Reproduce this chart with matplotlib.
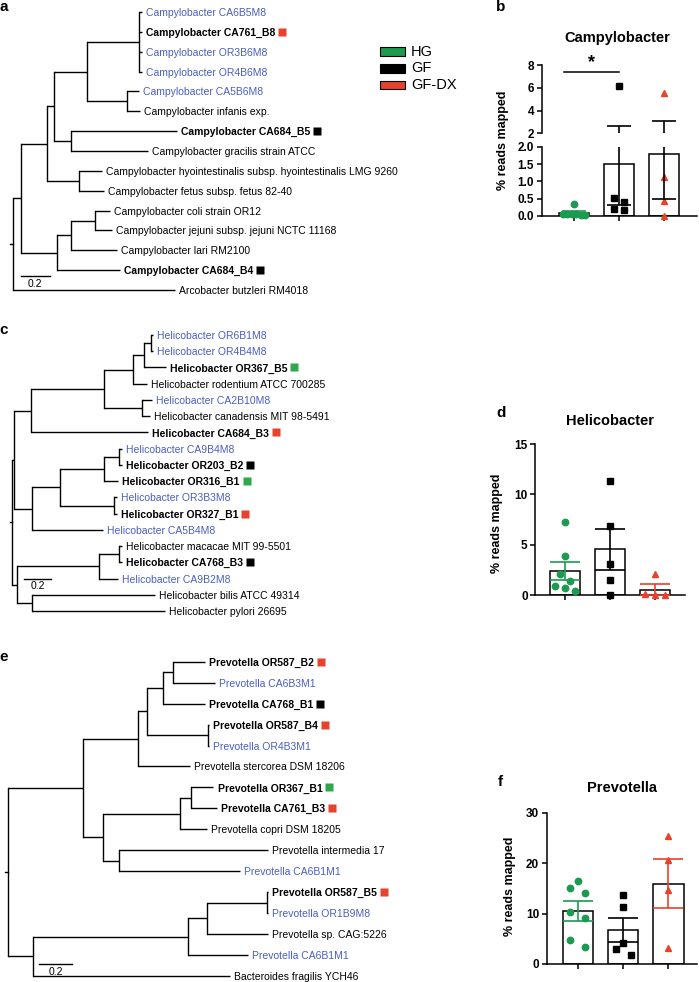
import matplotlib
matplotlib.use('Agg')
import matplotlib.pyplot as plt
import numpy as np
from matplotlib.patches import Rectangle

plt.rcParams['font.family'] = ['Liberation Sans', 'DejaVu Sans']

W, H = 699, 982
GREEN = '#1c9a50'
RED = '#e8412c'
BLUE = '#4a5ec2'

groups = ['HG', 'GF', 'GF-DX']
colors = {'HG': GREEN, 'GF': 'black', 'GF-DX': RED}
markers = {'HG': 'o', 'GF': 's', 'GF-DX': '^'}
msizes = {'HG': 4.6, 'GF': 4.0, 'GF-DX': 4.6}

# leaf = (name, branch depth, kind, group) ; node = (depth, [children])
# kind: 'ref' reference genome, 'mag' binned genome (blue), 'iso' isolate (bold)
tree_a = (0.0, [
    (0.05, [
        (0.228, [
            (0.28, [
                (0.505, [
                    (0.859, [
                        ('Campylobacter CA6B5M8', 0.875, 'mag', None),
                        ('Campylobacter CA761_B8', 0.875, 'iso', 'GF-DX'),
                        ('Campylobacter OR3B6M8', 0.875, 'mag', None),
                        ('Campylobacter OR4B6M8', 0.875, 'mag', None),
                    ]),
                    (0.773, [
                        ('Campylobacter CA5B6M8', 0.855, 'mag', None),
                        ('Campylobacter infanis exp.', 0.864, 'ref', None),
                    ]),
                ]),
                (0.391, [
                    ('Campylobacter CA684_B5', 1.114, 'iso', 'GF'),
                    ('Campylobacter gracilis strain ATCC', 0.92, 'ref', None),
                ]),
            ]),
            (0.448, [
                ('Campylobacter hyointestinalis subsp. hyointestinalis LMG 9260', 0.603, 'ref', None),
                ('Campylobacter fetus subsp. fetus 82-40', 0.618, 'ref', None),
            ]),
        ]),
        (0.296, [
            (0.391, [
                (0.557, [
                    ('Campylobacter coli strain OR12', 0.659, 'ref', None),
                    ('Campylobacter jejuni subsp. jejuni NCTC 11168', 0.671, 'ref', None),
                ]),
                ('Campylobacter lari RM2100', 0.705, 'ref', None),
            ]),
            ('Campylobacter CA684_B4', 0.727, 'iso', 'GF'),
        ]),
    ]),
    ('Arcobacter butzleri RM4018', 1.10, 'ref', None),
])

tree_c = (0.0, [
    (0.013, [
        (0.136, [
            (0.681, [
                (0.892, [
                    (0.978, [
                        (1.025, [
                            ('Helicobacter OR6B1M8', 1.04, 'mag', None),
                            ('Helicobacter OR4B4M8', 1.04, 'mag', None),
                        ]),
                        ('Helicobacter OR367_B5', 1.136, 'iso', 'HG'),
                    ]),
                    ('Helicobacter rodentium ATCC 700285', 0.996, 'ref', None),
                ]),
                (0.959, [
                    ('Helicobacter CA2B10M8', 1.033, 'mag', None),
                    ('Helicobacter canadensis MIT 98-5491', 1.02, 'ref', None),
                ]),
            ]),
            ('Helicobacter CA684_B3', 1.007, 'iso', 'GF-DX'),
        ]),
        (0.148, [
            (0.353, [
                (0.681, [
                    (0.79, [
                        ('Helicobacter CA9B4M8', 0.81, 'mag', None),
                        ('Helicobacter OR203_B2', 0.81, 'iso', 'GF'),
                    ]),
                    ('Helicobacter OR316_B1', 0.785, 'iso', 'HG'),
                ]),
                (0.756, [
                    ('Helicobacter OR3B3M8', 0.773, 'mag', None),
                    ('Helicobacter OR327_B1', 0.773, 'iso', 'GF-DX'),
                ]),
            ]),
            ('Helicobacter CA5B4M8', 0.674, 'mag', None),
        ]),
    ]),
    (0.037, [
        (0.644, [
            (0.79, [
                ('Helicobacter macacae MIT 99-5501', 0.81, 'ref', None),
                ('Helicobacter CA768_B3', 0.81, 'iso', 'GF'),
            ]),
            ('Helicobacter CA9B2M8', 0.785, 'mag', None),
        ]),
        (0.144, [
            ('Helicobacter bilis ATCC 49314', 1.057, 'ref', None),
            ('Helicobacter pylori 26695', 1.131, 'ref', None),
        ]),
    ]),
])

tree_e = (0.0, [
    (0.46, [
        (0.794, [
            (0.853, [
                (0.947, [
                    (1.009, [
                        ('Prevotella OR587_B2', 1.207, 'iso', 'GF-DX'),
                        ('Prevotella CA6B3M1', 1.268, 'mag', None),
                    ]),
                    ('Prevotella CA768_B1', 1.207, 'iso', 'GF'),
                ]),
                (1.227, [
                    ('Prevotella OR587_B4', 1.233, 'iso', 'GF-DX'),
                    ('Prevotella OR4B3M1', 1.233, 'mag', None),
                ]),
            ]),
            ('Prevotella stercorea DSM 18206', 1.115, 'ref', None),
        ]),
        (0.579, [
            (1.053, [
                (1.119, [
                    ('Prevotella OR367_B1', 1.258, 'iso', 'HG'),
                    ('Prevotella CA761_B3', 1.279, 'iso', 'GF-DX'),
                ]),
                ('Prevotella copri DSM 18205', 1.217, 'ref', None),
            ]),
            (0.681, [
                ('Prevotella intermedia 17', 1.595, 'ref', None),
                ('Prevotella CA6B1M1', 1.421, 'mag', None),
            ]),
        ]),
    ]),
    (0.153, [
        (1.104, [
            (1.221, [
                (1.585, [
                    ('Prevotella OR587_B5', 1.595, 'iso', 'GF-DX'),
                    ('Prevotella OR1B9M8', 1.595, 'mag', None),
                ]),
                ('Prevotella sp. CAG:5226', 1.595, 'ref', None),
            ]),
            ('Prevotella CA6B1M1', 1.472, 'mag', None),
        ]),
        ('Bacteroides fragilis YCH46', 1.36, 'ref', None),
    ]),
])

# % reads mapped per mouse
campy_hg = [0.34, 0.07, 0.06, 0.07, 0.05, 0.03, 0.02]
campy_gf = [6.15, 0.53, 0.41, 0.21, 0.16]
campy_gfdx = [5.6, 1.12, 0.43, 0.0]

helico_hg = [7.28, 3.87, 2.05, 1.39, 0.93, 0.66, 0.43]
helico_gf = [11.29, 6.85, 3.08, 1.49, 0.0]
helico_gfdx = [2.05, 0.1, 0.0, 0.02]

prevo_hg = [16.5, 15.1, 14.1, 10.3, 9.2, 4.7, 3.4]
prevo_gf = [13.6, 11.3, 4.2, 3.0, 1.7]
prevo_gfdx = [25.3, 20.6, 14.7, 3.2]


def px_axes(fig, x0, y0, x1, y1):
    return fig.add_axes([x0 / W, 1 - y1 / H, (x1 - x0) / W, (y1 - y0) / H])


def fig_text(fig, x, y, s, **kw):
    return fig.text(x / W, 1 - y / H, s, **kw)


def draw_node(ax, node, leaves, tagged):
    if isinstance(node[0], str):
        name, d, kind, grp = node
        y = len(leaves)
        leaves.append(node)
        t = ax.annotate(name, (d, y), xytext=(3, 0), textcoords='offset points',
                        va='center_baseline', ha='left', fontsize=7.5,
                        color=BLUE if kind == 'mag' else 'black',
                        fontweight='bold' if kind == 'iso' else 'normal',
                        annotation_clip=False)
        if grp:
            tagged.append((ax, t, y, grp))
        return y
    d, kids = node
    ys = [draw_node(ax, k, leaves, tagged) for k in kids]
    for k, y in zip(kids, ys):
        kd = k[1] if isinstance(k[0], str) else k[0]
        ax.plot([d, kd], [y, y], color='black', lw=1.0, solid_capstyle='butt')
    ax.plot([d, d], [min(ys), max(ys)], color='black', lw=1.0, solid_capstyle='projecting')
    return (min(ys) + max(ys)) / 2


def count_leaves(node):
    if isinstance(node[0], str):
        return 1
    return sum(count_leaves(k) for k in node[1])


def tree_panel(fig, tree, first_px, step_px, root_px, ppu, bar_y, tagged):
    n = count_leaves(tree)
    top = first_px - step_px / 2
    ax = px_axes(fig, 0, top, 430, top + n * step_px)
    ax.set_xlim(-root_px / ppu, (430 - root_px) / ppu)
    ax.set_ylim(n - 0.5, -0.5)
    ax.axis('off')
    yr = draw_node(ax, tree, [], tagged)
    ax.plot([-0.02, 0], [yr, yr], color='black', lw=1.0)
    # scale bar
    x0 = bar_y[0]
    ax.plot([x0, x0 + 0.2], [bar_y[1], bar_y[1]], color='black', lw=1.0)
    ax.text(x0 + 0.1, bar_y[1] + 0.12, '0.2', ha='center', va='top', fontsize=7.5)
    return ax


def swarm_offsets(ax, vals, spacing_px, row_px=7.5, max_px=22):
    vals = np.asarray(vals, float)
    ppx = ax.bbox.width / np.diff(ax.get_xlim())[0]
    ppy = ax.bbox.height / np.diff(ax.get_ylim())[0]
    rows = []
    for k in np.argsort(vals):
        if rows and (vals[k] - vals[rows[-1][0]]) * ppy < row_px:
            rows[-1].append(k)
        else:
            rows.append([k])
    offs = np.zeros(len(vals))
    for row in rows:
        n = len(row)
        if n < 2:
            continue
        s = min(spacing_px, max_px / (n - 1))
        for j, k in enumerate(sorted(row, key=lambda k: -vals[k])):
            offs[k] = (j - (n - 1) / 2) * s / ppx
    return offs


def style_bar_axes(ax, ticks, fmt, bottom=True):
    for sp in ['top', 'right']:
        ax.spines[sp].set_visible(False)
    ax.spines['left'].set_linewidth(1.1)
    ax.spines['bottom'].set_linewidth(1.1)
    ax.set_yticks(ticks)
    ax.set_yticklabels([fmt % t for t in ticks], fontsize=8.5, fontweight='bold')
    ax.tick_params(axis='y', length=3.5, width=1.1, pad=2)
    if bottom:
        ax.set_xticks([0, 1, 2])
        ax.set_xticklabels([])
        ax.tick_params(axis='x', length=3.5, width=1.1)
    else:
        ax.spines['bottom'].set_visible(False)
        ax.set_xticks([])


def bar_panel(axes, data, err_colors, spacing, capsize, swarm_ax=None):
    swarm_ax = swarm_ax or axes[0]
    for i, (grp, vals) in enumerate(zip(groups, data)):
        vals = np.asarray(vals, float)
        m = vals.mean()
        sem = vals.std(ddof=1) / np.sqrt(len(vals))
        offs = swarm_offsets(swarm_ax, vals, spacing)
        for ax in axes:
            lo, hi = ax.get_ylim()
            ax.bar(i, m, width=0.67, facecolor='white', edgecolor='black', lw=1.1, zorder=1)
            sel = (vals >= lo) & (vals <= hi)
            ax.plot(i + offs[sel], vals[sel], ls='none', marker=markers[grp], ms=msizes[grp],
                    color=colors[grp], mec=colors[grp], zorder=3, clip_on=False)
            ax.errorbar(i, m, yerr=sem, color=err_colors[i], capsize=capsize, elinewidth=1.2,
                        capthick=1.2, zorder=4)


fig = plt.figure(figsize=(W / 100, H / 100), dpi=100)
tagged = []

tree_panel(fig, tree_a, 12, 19.86, 13.3, 146.7, (0.05, 13.3), tagged)
tree_panel(fig, tree_c, 335, 16.24, 12.3, 135.0, (0.087, 15.04), tagged)
tree_panel(fig, tree_e, 661.7, 20.95, 8.3, 163.0, (0.19, 14.44), tagged)

# legend
for k, g in enumerate(groups):
    y = 47.3 + k * 16.6
    fig.add_artist(Rectangle((380 / W, 1 - (y + 8.6) / H), 25 / W, 8.6 / H,
                             transform=fig.transFigure, facecolor=colors[g],
                             edgecolor='black', lw=0.8))
    fig_text(fig, 411, y + 4.3, g, fontsize=10.5, va='center', ha='left')

# b: Campylobacter (broken axis)
b_low = px_axes(fig, 541.7, 146.7, 697, 216)
b_up = px_axes(fig, 541.7, 65.3, 697, 133.3)
for ax in (b_low, b_up):
    ax.set_xlim(-0.718, 2.73)
b_low.set_ylim(0, 2)
b_up.set_ylim(2, 8)
style_bar_axes(b_low, [0, 0.5, 1.0, 1.5, 2.0], '%.1f')
style_bar_axes(b_up, [2, 4, 6, 8], '%d', bottom=False)
bar_panel([b_low, b_up], [campy_hg, campy_gf, campy_gfdx], [GREEN, 'black', 'black'], 10, 8.5)
b_up.plot([-0.22, 1.0], [7.44, 7.44], color='black', lw=1.1, clip_on=False)
b_up.text(0.39, 7.5, '*', ha='center', va='bottom', fontsize=13, fontweight='bold')

# d: Helicobacter
d_ax = px_axes(fig, 535.3, 444, 685, 595)
d_ax.set_xlim(-0.65, 2.66)
d_ax.set_ylim(0, 15)
style_bar_axes(d_ax, [0, 5, 10, 15], '%d')
bar_panel([d_ax], [helico_hg, helico_gf, helico_gfdx], [GREEN, 'black', RED], 10, 11)

# f: Prevotella
f_ax = px_axes(fig, 546.7, 812.7, 697, 964)
f_ax.set_xlim(-0.684, 2.63)
f_ax.set_ylim(0, 30)
style_bar_axes(f_ax, [0, 10, 20, 30], '%d')
bar_panel([f_ax], [prevo_hg, prevo_gf, prevo_gfdx], [GREEN, 'black', RED], 15, 11)

# titles, y labels, panel letters
for x, y, s in [(617.7, 38, 'Campylobacter'), (610, 420.7, 'Helicobacter'), (621.7, 788, 'Prevotella')]:
    fig_text(fig, x, y, s, ha='center', va='center', fontsize=10.5, fontweight='bold')
for x, y in [(503, 140), (496.7, 523), (510, 886.7)]:
    fig_text(fig, x, y, '% reads mapped', rotation=90, ha='center', va='center',
             fontsize=9, fontweight='bold')
for x, y, s in [(4, 7, 'a'), (501, 7, 'b'), (4, 330, 'c'), (501, 413, 'd'), (4, 657, 'e'), (500, 782, 'f')]:
    fig_text(fig, x, y, s, ha='center', va='center', fontsize=11, fontweight='bold')

# group squares after isolate labels
fig.canvas.draw()
r = fig.canvas.get_renderer()
for ax, t, y, grp in tagged:
    bb = t.get_window_extent(r)
    yd = ax.transData.transform((0, y))[1]
    xd = ax.transData.inverted().transform((bb.x1 + 7, yd))[0]
    ax.plot(xd, y, marker='s', ms=5.3, color=colors[grp] if grp != 'HG' else '#2ea84a',
            mec='none', clip_on=False)

fig.savefig('out.png', dpi=100)
